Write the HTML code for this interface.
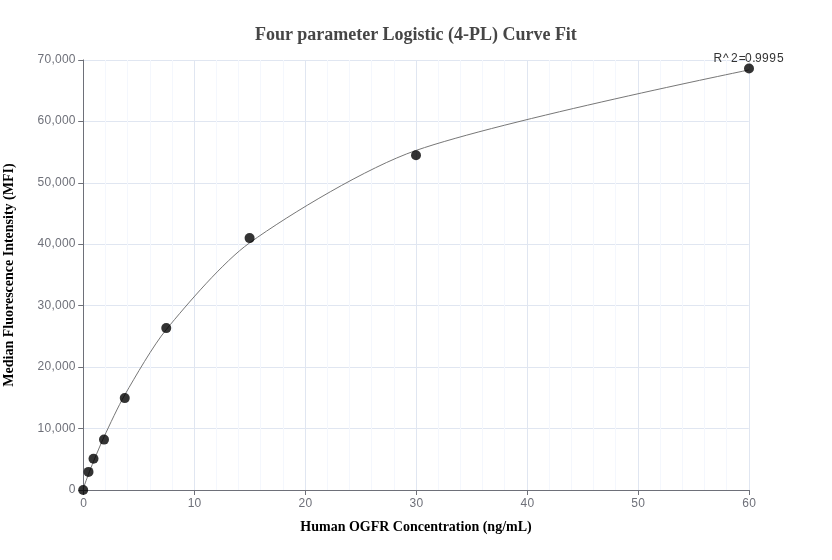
<!DOCTYPE html>
<html lang="en">
<head>
<meta charset="utf-8">
<title>Four parameter Logistic (4-PL) Curve Fit</title>
<style>
html,body{margin:0;padding:0;background:#fff;}
body{width:832px;height:560px;overflow:hidden;}
svg{display:block;will-change:transform;}
.tick{font-family:"Liberation Sans",Arial,sans-serif;font-size:12px;fill:#6E7079;letter-spacing:0.25px;}
.name{font-family:"Liberation Serif","Times New Roman",serif;font-weight:bold;font-size:14px;fill:#000;}
.title{font-family:"Liberation Serif","Times New Roman",serif;font-weight:bold;font-size:18px;fill:#464646;}
.r2{font-family:"Liberation Sans",Arial,sans-serif;font-size:12px;fill:#333;}
</style>
</head>
<body>
<svg width="832" height="560" viewBox="0 0 832 560">
<rect x="0" y="0" width="832" height="560" fill="#ffffff"/>
<g stroke="#E0E6F1" stroke-width="1">
<line x1="194.5" y1="60.0" x2="194.5" y2="490.0"/>
<line x1="305.5" y1="60.0" x2="305.5" y2="490.0"/>
<line x1="416.5" y1="60.0" x2="416.5" y2="490.0"/>
<line x1="527.5" y1="60.0" x2="527.5" y2="490.0"/>
<line x1="638.5" y1="60.0" x2="638.5" y2="490.0"/>
<line x1="749.5" y1="60.0" x2="749.5" y2="490.0"/>
<line x1="83.2" y1="428.5" x2="748.8" y2="428.5"/>
<line x1="83.2" y1="367.5" x2="748.8" y2="367.5"/>
<line x1="83.2" y1="305.5" x2="748.8" y2="305.5"/>
<line x1="83.2" y1="244.5" x2="748.8" y2="244.5"/>
<line x1="83.2" y1="183.5" x2="748.8" y2="183.5"/>
<line x1="83.2" y1="121.5" x2="748.8" y2="121.5"/>
<line x1="83.2" y1="60.5" x2="748.8" y2="60.5"/>
</g>
<g stroke="#F4F7FD" stroke-width="1">
<line x1="105.5" y1="60.0" x2="105.5" y2="490.0"/>
<line x1="127.5" y1="60.0" x2="127.5" y2="490.0"/>
<line x1="150.5" y1="60.0" x2="150.5" y2="490.0"/>
<line x1="172.5" y1="60.0" x2="172.5" y2="490.0"/>
<line x1="216.5" y1="60.0" x2="216.5" y2="490.0"/>
<line x1="238.5" y1="60.0" x2="238.5" y2="490.0"/>
<line x1="260.5" y1="60.0" x2="260.5" y2="490.0"/>
<line x1="283.5" y1="60.0" x2="283.5" y2="490.0"/>
<line x1="327.5" y1="60.0" x2="327.5" y2="490.0"/>
<line x1="349.5" y1="60.0" x2="349.5" y2="490.0"/>
<line x1="371.5" y1="60.0" x2="371.5" y2="490.0"/>
<line x1="394.5" y1="60.0" x2="394.5" y2="490.0"/>
<line x1="438.5" y1="60.0" x2="438.5" y2="490.0"/>
<line x1="460.5" y1="60.0" x2="460.5" y2="490.0"/>
<line x1="482.5" y1="60.0" x2="482.5" y2="490.0"/>
<line x1="504.5" y1="60.0" x2="504.5" y2="490.0"/>
<line x1="549.5" y1="60.0" x2="549.5" y2="490.0"/>
<line x1="571.5" y1="60.0" x2="571.5" y2="490.0"/>
<line x1="593.5" y1="60.0" x2="593.5" y2="490.0"/>
<line x1="615.5" y1="60.0" x2="615.5" y2="490.0"/>
<line x1="660.5" y1="60.0" x2="660.5" y2="490.0"/>
<line x1="682.5" y1="60.0" x2="682.5" y2="490.0"/>
<line x1="704.5" y1="60.0" x2="704.5" y2="490.0"/>
<line x1="726.5" y1="60.0" x2="726.5" y2="490.0"/>
</g>
<g stroke="#6E7079" stroke-width="1">
<line x1="83.5" y1="59.5" x2="83.5" y2="490.0"/>
<line x1="83.2" y1="490.5" x2="749.0" y2="490.5"/>
<line x1="78.2" y1="490.5" x2="83.2" y2="490.5"/>
<line x1="78.2" y1="428.5" x2="83.2" y2="428.5"/>
<line x1="78.2" y1="367.5" x2="83.2" y2="367.5"/>
<line x1="78.2" y1="305.5" x2="83.2" y2="305.5"/>
<line x1="78.2" y1="244.5" x2="83.2" y2="244.5"/>
<line x1="78.2" y1="183.5" x2="83.2" y2="183.5"/>
<line x1="78.2" y1="121.5" x2="83.2" y2="121.5"/>
<line x1="78.2" y1="60.5" x2="83.2" y2="60.5"/>
<line x1="83.5" y1="490.0" x2="83.5" y2="495.0"/>
<line x1="194.5" y1="490.0" x2="194.5" y2="495.0"/>
<line x1="305.5" y1="490.0" x2="305.5" y2="495.0"/>
<line x1="416.5" y1="490.0" x2="416.5" y2="495.0"/>
<line x1="527.5" y1="490.0" x2="527.5" y2="495.0"/>
<line x1="638.5" y1="490.0" x2="638.5" y2="495.0"/>
<line x1="749.5" y1="490.0" x2="749.5" y2="495.0"/>
</g>
<g class="tick" text-anchor="end">
<text x="75.8" y="492.9">0</text>
<text x="75.8" y="431.5">10,000</text>
<text x="75.8" y="370.0">20,000</text>
<text x="75.8" y="308.6">30,000</text>
<text x="75.8" y="247.2">40,000</text>
<text x="75.8" y="185.8">50,000</text>
<text x="75.8" y="124.3">60,000</text>
<text x="75.8" y="62.9">70,000</text>
</g>
<g class="tick" text-anchor="middle">
<text x="83.6" y="506.9">0</text>
<text x="194.6" y="506.9">10</text>
<text x="305.5" y="506.9">20</text>
<text x="416.4" y="506.9">30</text>
<text x="527.4" y="506.9">40</text>
<text x="638.3" y="506.9">50</text>
<text x="749.2" y="506.9">60</text>
</g>
<path d="M83.20 488.56 C83.20 488.56 86.95 478.24 88.40 474.44 C89.76 470.87 92.13 464.79 93.60 461.26 C96.34 454.66 100.96 443.40 104.00 436.94 C109.39 425.47 118.45 405.79 124.80 394.84 C135.29 376.76 153.18 345.50 166.40 329.39 C186.87 304.46 223.54 261.55 249.60 242.86 C290.93 213.23 367.84 167.12 416.00 150.44 C502.63 120.44 748.80 69.97 748.80 69.97" fill="none" stroke="#777" stroke-width="1.0" stroke-linejoin="round" stroke-linecap="butt"/>
<g fill="#000" fill-opacity="0.8">
<circle cx="83.20" cy="490.00" r="5"/>
<circle cx="88.50" cy="471.90" r="5"/>
<circle cx="93.50" cy="458.75" r="5"/>
<circle cx="104.00" cy="439.60" r="5"/>
<circle cx="124.75" cy="398.10" r="5"/>
<circle cx="166.25" cy="328.10" r="5"/>
<circle cx="249.60" cy="238.10" r="5"/>
<circle cx="416.00" cy="155.25" r="5"/>
<circle cx="749.00" cy="68.50" r="5"/>
</g>
<text class="r2" x="713.60 723.10 731.00 738.70 745.05 752.30 754.95 762.00 769.20 777.00" y="61.9">R^2=0.9995</text>
<text class="title" text-anchor="middle" x="416" y="39.6">Four parameter Logistic (4-PL) Curve Fit</text>
<text class="name" text-anchor="middle" x="416" y="531.0">Human OGFR Concentration (ng/mL)</text>
<text class="name" text-anchor="middle" transform="translate(12.5 275) rotate(-90)">Median Fluorescence Intensity (MFI)</text>
</svg>
</body>
</html>
